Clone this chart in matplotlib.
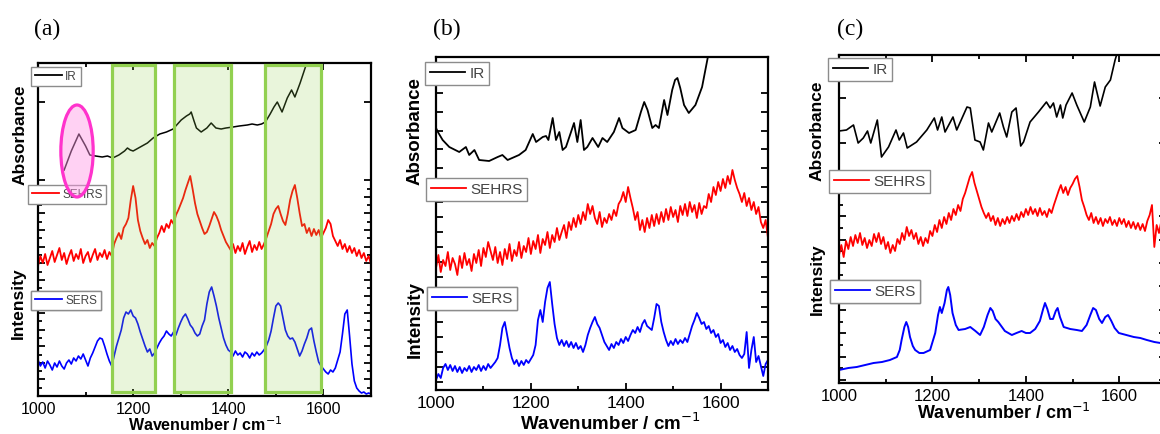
import numpy as np
import matplotlib.pyplot as plt
from matplotlib.patches import Rectangle, Ellipse

plt.rcParams['font.family'] = ['Liberation Sans', 'DejaVu Sans']

W, H = 1160, 434

# ---------------- panel (a) ----------------
ir_a_x = [1055, 1070, 1086, 1100, 1109, 1121, 1135, 1146, 1157, 1170,
          1182, 1188, 1194, 1200, 1215, 1230, 1242, 1256, 1270, 1284,
          1301, 1312, 1319, 1322, 1328, 1333, 1343, 1355, 1364, 1374,
          1385, 1395, 1410, 1423, 1440, 1450, 1461, 1470, 1478, 1488,
          1496, 1503, 1513, 1524, 1533, 1540, 1551, 1558, 1565, 1575]
ir_a_y = [226, 245, 262, 250, 241, 240, 239, 240, 238, 241,
          245, 248, 246, 245, 249, 253, 258, 262, 264, 267,
          276, 280, 282, 284, 275, 268, 264, 268, 273, 268,
          267, 268, 269, 270, 271, 272, 271, 272, 274, 282,
          289, 294, 284, 298, 306, 299, 313, 323, 333, 350]

# SEHRS / SERS sampled every 5 cm-1 from 1000
sehrs_a = [130, 140, 133, 142, 131, 138, 145, 134, 141, 148,
           136, 143, 132, 140, 146, 135, 142, 137, 147, 133,
           140, 144, 134, 141, 147, 136, 143, 139, 146, 137,
           144, 140, 152, 158, 163, 157, 168, 172, 178, 196,
           210, 198, 176, 165, 158, 152, 156, 148, 153, 150,
           158, 163, 170, 164, 172, 168, 176, 172, 181, 186,
           192, 198, 206, 213, 220, 207, 193, 182, 175, 168,
           162, 164, 170, 177, 184, 180, 174, 166, 160, 154,
           150, 146, 152, 143, 150, 145, 153, 142, 149, 155,
           144, 151, 146, 154, 147, 152, 158, 165, 172, 182,
           187, 190, 182, 175, 171, 182, 196, 205, 211, 198,
           183, 170, 172, 163, 168, 160, 167, 161, 166, 158,
           163, 168, 176, 172, 160, 155, 150, 156, 147, 152,
           144, 150, 143, 148, 140, 146, 138, 143, 135, 140, 132]
sers_a = [36, 30, 34, 28, 35, 31, 26, 33, 29, 35,
          30, 27, 33, 36, 32, 38, 35, 40, 37, 42,
          36, 30, 38, 43, 49, 55, 58, 57, 50, 42,
          35, 30, 40, 50, 58, 66, 78, 84, 82, 86,
          80, 78, 72, 64, 57, 50, 44, 47, 40, 43,
          48, 53, 57, 60, 65, 62, 60, 64, 61, 68,
          74, 79, 82, 77, 71, 68, 63, 60, 62, 70,
          76, 92, 104, 109, 100, 90, 78, 68, 58, 51,
          46, 44, 40, 45, 41, 43, 39, 44, 42, 38,
          43, 40, 44, 41, 43, 46, 50, 56, 65, 78,
          90, 93, 90, 78, 66, 60, 57, 58, 54, 47,
          40, 45, 52, 58, 66, 68, 55, 44, 34, 30,
          27, 24, 22, 26, 24, 28, 36, 44, 62, 82,
          86, 60, 32, 15, 8, 5, 3, 4, 2, 3, 2]

# ---------------- panel (b) ----------------
ir_b_x = [1000, 1004, 1014, 1028, 1049, 1063, 1070, 1081, 1091, 1112,
          1130, 1140, 1151, 1175, 1189, 1204, 1211, 1225, 1232, 1237,
          1246, 1253, 1260, 1267, 1274, 1284, 1291, 1298, 1305, 1312,
          1319, 1330, 1342, 1351, 1361, 1375, 1386, 1393, 1407, 1421,
          1432, 1439, 1446, 1456, 1463, 1470, 1481, 1488, 1498, 1504,
          1509, 1515, 1523, 1533, 1547, 1561, 1572, 1580]
ir_b_y = [262, 258, 250, 243, 238, 243, 235, 240, 230, 229,
          233, 235, 230, 235, 240, 256, 248, 253, 254, 250,
          272, 250, 258, 240, 243, 257, 267, 248, 270, 240,
          243, 252, 243, 252, 248, 258, 272, 262, 257, 260,
          278, 288, 280, 262, 265, 262, 290, 275, 300, 310,
          312, 302, 285, 277, 285, 303, 330, 350]
sehrs_b = [122, 135, 118, 130, 124, 138, 120, 132, 126, 115,
           134, 122, 137, 125, 131, 119, 136, 127, 140, 124,
           142, 133, 148, 139, 130, 143, 127, 138, 125, 141,
           131, 146, 129, 140, 134, 148, 132, 144, 138, 152,
           136, 149, 141, 155, 137, 151, 145, 158, 142, 155,
           148, 162, 150, 158, 165, 152, 168, 160, 172, 163,
           175, 166, 178, 170, 186, 176, 184, 172, 166, 178,
           163, 172, 167, 176, 170, 180, 174, 186, 190, 198,
           188, 203, 192, 182, 170, 178, 160, 170, 158, 172,
           162, 175, 164, 176, 166, 178, 168, 181, 170, 183,
           173, 180, 168, 184, 175, 186, 174, 188, 178, 185,
           172, 187, 176, 184, 182, 196, 188, 203, 195, 208,
           199, 211, 202, 214, 206, 220, 210, 202, 196, 188,
           197, 184, 192, 180, 188, 176, 183, 168, 162, 170, 152]
sers_b = [10, 16, 12, 22, 26, 20, 25, 19, 24, 18,
          23, 17, 22, 19, 24, 18, 23, 20, 25, 19,
          24, 20, 26, 22, 25, 28, 32, 45, 62, 68,
          55, 42, 32, 26, 30, 24, 29, 25, 30, 27,
          31, 35, 45, 70, 80, 68, 88, 102, 108, 86,
          66, 52, 45, 50, 44, 49, 43, 48, 42, 47,
          41, 44, 38, 45, 55, 62, 68, 73, 66, 62,
          55, 48, 44, 40, 46, 42, 48, 45, 51, 47,
          53, 49, 55, 60, 57, 63, 58, 66, 70, 64,
          62, 60, 72, 86, 84, 68, 58, 50, 44, 49,
          45, 51, 46, 50, 47, 52, 48, 56, 64, 70,
          77, 72, 66, 68, 61, 64, 57, 60, 53, 56,
          47, 50, 43, 47, 40, 44, 38, 41, 35, 32,
          36, 58, 22, 40, 53, 28, 34, 24, 14, 26, 30]

# ---------------- panel (c) ----------------
ir_c_x = [1000, 1016, 1031, 1041, 1052, 1061, 1068, 1082, 1091, 1106,
          1122, 1129, 1138, 1146, 1166, 1188, 1204, 1211, 1220, 1227,
          1244, 1252, 1274, 1281, 1291, 1302, 1309, 1320, 1327, 1344,
          1352, 1359, 1370, 1379, 1389, 1395, 1409, 1427, 1444, 1452,
          1459, 1466, 1474, 1479, 1486, 1499, 1509, 1525, 1538, 1547,
          1559, 1570, 1581, 1591, 1602]
ir_c_y = [252, 253, 258, 240, 245, 252, 240, 263, 226, 236,
          253, 243, 250, 235, 241, 253, 265, 253, 266, 251,
          266, 253, 276, 275, 243, 241, 233, 260, 251, 270,
          256, 246, 271, 275, 237, 241, 261, 271, 281, 275,
          280, 266, 278, 265, 278, 290, 278, 261, 276, 301,
          277, 296, 303, 323, 340]
sehrs_c = [128, 138, 126, 142, 134, 146, 137, 148, 140, 150,
           138, 145, 135, 143, 137, 149, 141, 150, 139, 146,
           134, 141, 130, 138, 132, 144, 139, 150, 143, 156,
           147, 153, 144, 150, 139, 146, 137, 145, 140, 152,
           147, 158, 151, 163, 155, 166, 159, 170, 163, 174,
           168, 178, 172, 184, 190, 198, 206, 211, 200, 192,
           184, 176, 170, 165, 170, 162, 167, 158, 165, 157,
           164, 159, 166, 160, 167, 162, 169, 163, 171, 166,
           174, 168, 176, 169, 174, 167, 175, 168, 172, 166,
           174, 170, 178, 185, 192, 198, 190, 196, 188, 195,
           199, 204, 207, 196, 183, 176, 168, 163, 170, 160,
           166, 159, 165, 157, 164, 160, 166, 158, 163, 157,
           165, 159, 164, 156, 162, 155, 161, 154, 160, 153,
           159, 152, 162, 168, 178, 136, 158, 150, 162, 148, 155]
sers_c_x = [1000, 1020, 1038, 1056, 1074, 1092, 1109, 1124, 1130, 1134,
            1140, 1144, 1148, 1152, 1158, 1163, 1172, 1181, 1195, 1206,
            1212, 1216, 1220, 1226, 1231, 1234, 1238, 1243, 1250, 1256,
            1270, 1281, 1292, 1302, 1310, 1318, 1324, 1329, 1335, 1341,
            1355, 1370, 1380, 1391, 1400, 1409, 1420, 1430, 1437, 1441,
            1446, 1452, 1458, 1464, 1468, 1473, 1481, 1495, 1509, 1520,
            1530, 1538, 1544, 1550, 1557, 1563, 1570, 1576, 1583, 1590,
            1599, 1615, 1631, 1645, 1659, 1675, 1688, 1700]
sers_c_y = [13, 15, 16, 18, 20, 21, 23, 26, 33, 43,
            56, 61, 56, 46, 37, 33, 30, 30, 33, 50,
            68, 76, 70, 80, 93, 96, 88, 70, 58, 53,
            54, 56, 52, 48, 56, 68, 75, 72, 64, 61,
            52, 48, 50, 52, 50, 50, 54, 62, 74, 80,
            74, 64, 64, 72, 75, 66, 56, 54, 53, 52,
            58, 68, 75, 73, 64, 60, 66, 68, 62, 55,
            50, 48, 46, 45, 43, 41, 40, 38]

# highlighted bands in (a)
bands = [(1156, 1246), (1285, 1406), (1478, 1594)]

fig = plt.figure(figsize=(11.6, 4.34), dpi=100)


def px_axes(l, t, r, b):
    return fig.add_axes([l / W, 1 - b / H, (r - l) / W, (b - t) / H])


def style(ax, ylim, major, minor, fs, top=True):
    ax.set_xlim(1000, 1700)
    ax.set_ylim(*ylim)
    ax.set_xticks([1000, 1200, 1400, 1600])
    ax.set_xticks([1100, 1300, 1500, 1700], minor=True)
    ax.set_yticks(major)
    ax.set_yticks(minor, minor=True)
    ax.set_yticklabels([])
    ax.tick_params(which='both', direction='in', right=True, top=top,
                   width=1.3, labelsize=fs, pad=4)
    ax.tick_params(which='major', length=5)
    ax.tick_params(which='minor', length=3)
    for s in ax.spines.values():
        s.set_linewidth(1.6)


def key(ax, line, label, x, y, fs, hl):
    leg = ax.legend([line], [label], loc='upper left',
                    bbox_to_anchor=(x / W, 1 - y / H),
                    bbox_transform=fig.transFigure, borderaxespad=0,
                    fancybox=False, framealpha=1, edgecolor='#8c8c8c',
                    fontsize=fs, handlelength=hl, handletextpad=0.3,
                    borderpad=0.3)
    leg.get_frame().set_linewidth(1.0)
    for ln in leg.get_lines():
        ln.set_linewidth(1.3)
    for t in leg.get_texts():
        t.set_color('#444444')
    ax.add_artist(leg)


def grid5(vals):
    return 1000 + 5 * np.arange(len(vals))


# ---- (a)
ax = px_axes(38, 63, 371, 396)
l_ir, = ax.plot(ir_a_x, ir_a_y, color='black', lw=1.1)
l_sh, = ax.plot(grid5(sehrs_a), sehrs_a, color='red', lw=1.3)
l_se, = ax.plot(grid5(sers_a), sers_a, color='blue', lw=1.2)
style(ax, (0, 333),
      list(np.arange(0, 222, 16.6)) + [294],
      np.arange(8.3, 222, 16.6), 11.5)
for x0, x1 in bands:
    ax.add_patch(Rectangle((x0, 4), x1 - x0, 327,
                           facecolor=(0.57, 0.82, 0.31, 0.2),
                           edgecolor='#92d050', lw=2.3, zorder=4))
key(ax, l_ir, 'IR', 31, 67, 8.5, 2.3)
key(ax, l_sh, 'SEHRS', 28, 185, 8.5, 2.3)
key(ax, l_se, 'SERS', 31, 291, 8.5, 2.3)
ax.add_patch(Ellipse((1082, 245), 68, 92, facecolor=(1.0, 0.6, 0.9, 0.45),
                     edgecolor='#ff33cc', lw=2.3, zorder=8))
fig.text(20 / W, 1 - 135 / H, 'Absorbance', rotation=90, ha='center',
         va='center', fontsize=12.5, fontweight='bold')
fig.text(18 / W, 1 - 303 / H, 'Intensity', rotation=90, ha='center',
         va='center', fontsize=12.5, fontweight='bold')
fig.text(205 / W, 1 - 425 / H, 'Wavenumber / cm$^{-1}$', ha='center',
         va='center', fontsize=11.5, fontweight='bold')
fig.text(47 / W, 1 - 29 / H, '(a)', ha='center', va='center',
         fontsize=17, family='Liberation Serif')

# ---- (b)
ax = px_axes(436, 57, 768, 390)
l_ir, = ax.plot(ir_b_x, ir_b_y, color='black', lw=1.3)
l_sh, = ax.plot(grid5(sehrs_b), sehrs_b, color='red', lw=1.3)
l_se, = ax.plot(grid5(sers_b), sers_b, color='blue', lw=1.3)
style(ax, (0, 333),
      list(np.arange(8, 210, 15)) + list(np.arange(222, 310, 18.75)),
      [], 12.5, top=False)
key(ax, l_ir, 'IR', 425, 62, 11, 2.3)
key(ax, l_sh, 'SEHRS', 426, 178, 11, 2.3)
key(ax, l_se, 'SERS', 427, 287, 11, 2.3)
fig.text(415 / W, 1 - 131 / H, 'Absorbance', rotation=90, ha='center',
         va='center', fontsize=13.5, fontweight='bold')
fig.text(415 / W, 1 - 320 / H, 'Intensity', rotation=90, ha='center',
         va='center', fontsize=13.5, fontweight='bold')
fig.text(610 / W, 1 - 423 / H, 'Wavenumber / cm$^{-1}$', ha='center',
         va='center', fontsize=13.5, fontweight='bold')
fig.text(447 / W, 1 - 29 / H, '(b)', ha='center', va='center',
         fontsize=17, family='Liberation Serif')

# ---- (c)
ax = px_axes(839, 55, 1166, 383)
l_ir, = ax.plot(ir_c_x, ir_c_y, color='black', lw=1.2)
l_sh, = ax.plot(grid5(sehrs_c), sehrs_c, color='red', lw=1.3)
l_se, = ax.plot(sers_c_x, sers_c_y, color='blue', lw=1.4)
style(ax, (0, 328),
      list(np.arange(3, 190, 23.4)) + [240, 285],
      np.arange(14.7, 190, 23.4), 12)
key(ax, l_ir, 'IR', 828, 58, 11, 2.3)
key(ax, l_sh, 'SEHRS', 829, 170, 11, 2.3)
key(ax, l_se, 'SERS', 830, 280, 11, 2.3)
fig.text(817 / W, 1 - 131 / H, 'Absorbance', rotation=90, ha='center',
         va='center', fontsize=12.5, fontweight='bold')
fig.text(817 / W, 1 - 279 / H, 'Intensity', rotation=90, ha='center',
         va='center', fontsize=12.5, fontweight='bold')
fig.text(1004 / W, 1 - 413 / H, 'Wavenumber / cm$^{-1}$', ha='center',
         va='center', fontsize=13, fontweight='bold')
fig.text(850 / W, 1 - 29 / H, '(c)', ha='center', va='center',
         fontsize=17, family='Liberation Serif')

fig.savefig('out.png', dpi=100)
